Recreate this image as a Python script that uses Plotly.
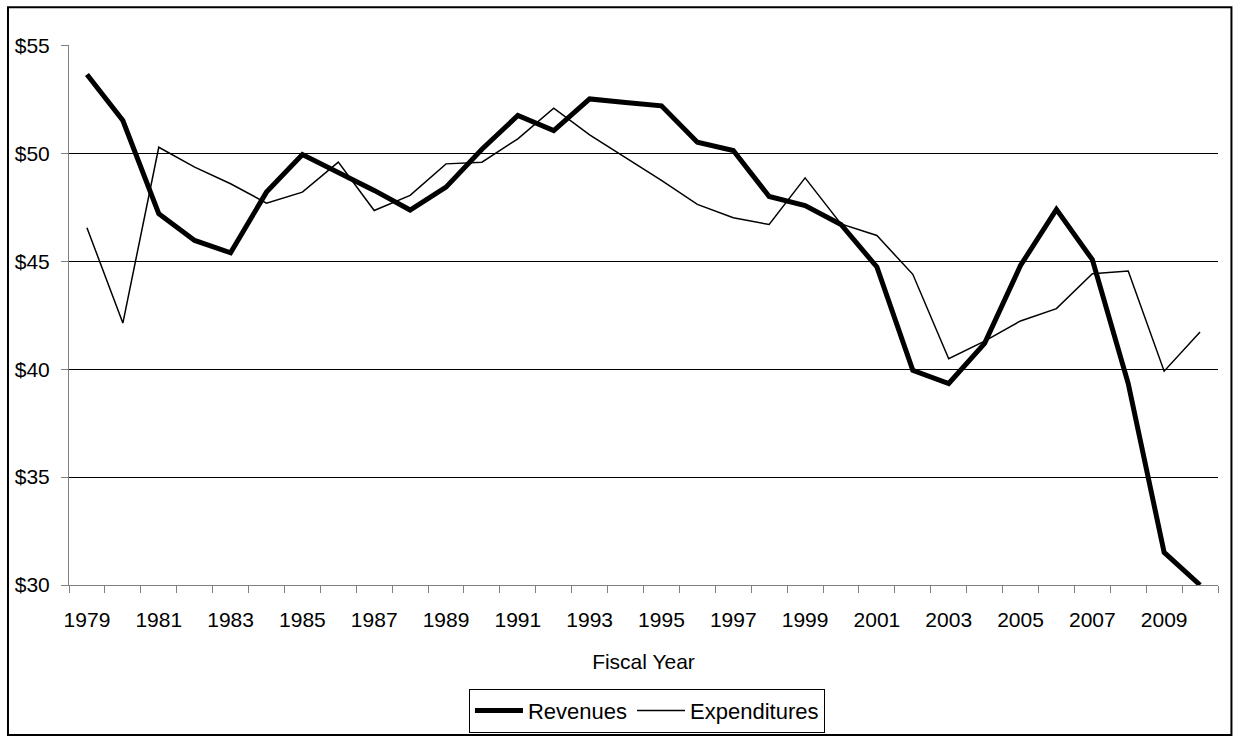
import plotly.graph_objects as go

years = list(range(1979, 2011))
revenues = [53.66, 51.53, 47.21, 45.97, 45.40, 48.21, 49.95, 49.15, 48.29, 47.38,
            48.44, 50.20, 51.76, 51.06, 52.53, 52.37, 52.21, 50.52, 50.14, 48.01,
            47.59, 46.71, 44.74, 39.95, 39.34, 41.20, 44.81, 47.41, 45.08, 39.34,
            31.51, 30.00]
expenditures = [46.56, 42.14, 50.29, 49.37, 48.60, 47.70, 48.21, 49.60, 47.36, 48.06,
                49.52, 49.60, 50.68, 52.10, 50.86, 49.82, 48.75, 47.64, 47.02, 46.71,
                48.87, 46.74, 46.20, 44.40, 40.49, 41.30, 42.24, 42.81, 44.43, 44.55,
                39.91, 41.73]
label_years = [y for y in years if (y - 1979) % 2 == 0]
label_text = [str(y) for y in label_years]

FONT = "Liberation Sans, Arial, sans-serif"

fig = go.Figure()
fig.add_trace(go.Scatter(x=years, y=revenues, name="Revenues", mode="lines",
                         line=dict(color="black", width=5)))
fig.add_trace(go.Scatter(x=years, y=expenditures, name="Expenditures", mode="lines",
                         line=dict(color="black", width=1.5)))

fig.update_layout(
    width=1236, height=737,
    margin=dict(l=69, r=17.5, t=44.7, b=152, autoexpand=False),
    paper_bgcolor="white", plot_bgcolor="white",
    font=dict(family=FONT, size=21, color="black"),
    showlegend=True,
    legend=dict(orientation="h", x=0.503, xanchor="center", y=-0.192, yanchor="top",
                bordercolor="black", borderwidth=1, font=dict(size=22),
                itemwidth=48, bgcolor="white"),
    xaxis=dict(range=[years[0] - 0.5, years[-1] + 0.5],
               tickmode="array", tickvals=label_years, ticktext=label_text,
               ticks="", tickangle=0,
               minor=dict(dtick=1, tick0=years[0] - 0.5, ticks="outside", ticklen=7,
                          tickcolor="#808080", showgrid=False),
               showline=True, linecolor="#808080", linewidth=1, showgrid=False,
               zeroline=False, ticklabelstandoff=16, tickfont=dict(size=21),
               title=dict(text="Fiscal Year", font=dict(size=21), standoff=24),
               automargin=False),
    yaxis=dict(range=[30, 55.03], dtick=5, tick0=30, tickprefix="$",
               ticks="outside", ticklen=7, tickcolor="#808080",
               showline=True, linecolor="#808080", linewidth=1,
               showgrid=True, gridcolor="black", gridwidth=1,
               zeroline=False, ticklabelstandoff=7, tickfont=dict(size=21),
               automargin=False),
)

fig.add_shape(type="rect", xref="paper", yref="paper",
              x0=-0.0531, x1=1.0117, y0=-0.2777, y1=1.0698,
              line=dict(color="black", width=2), layer="below")

fig.write_html("out.html", config={"displayModeBar": False},
               post_script="document.body.style.margin='0';document.body.style.overflow='hidden';")
